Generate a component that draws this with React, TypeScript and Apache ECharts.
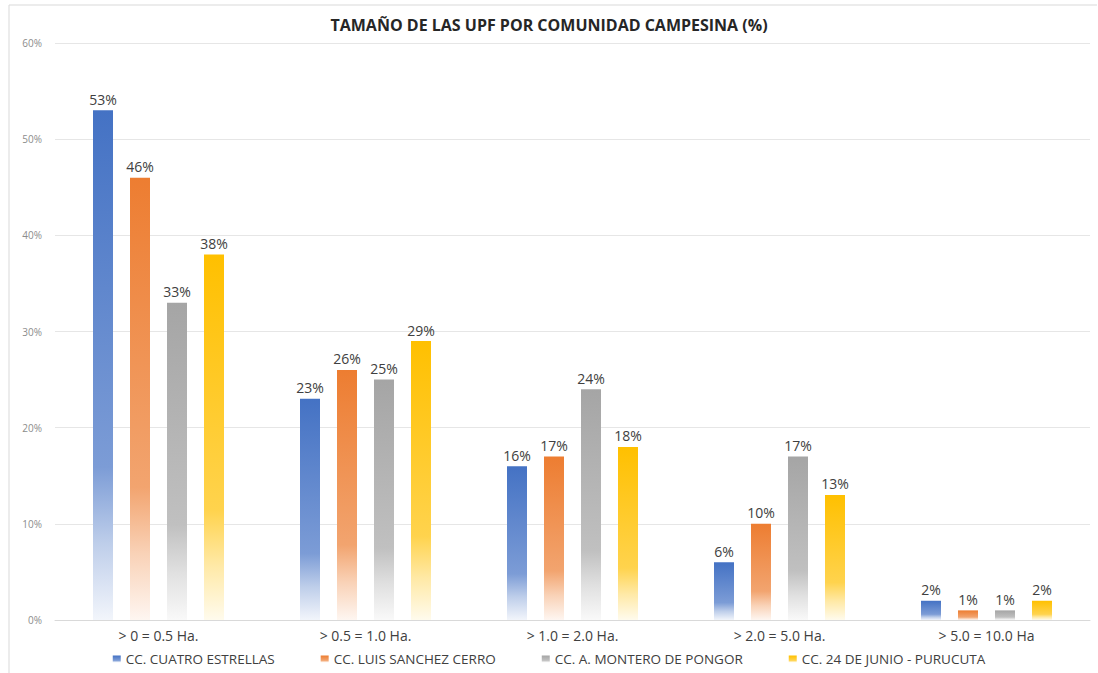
import React, { useEffect, useRef } from "react";
import * as echarts from "echarts";

const categories = ["> 0 = 0.5 Ha.", "> 0.5 = 1.0 Ha.", "> 1.0 = 2.0 Ha.", "> 2.0 = 5.0 Ha.", "> 5.0 = 10.0 Ha"];
const seriesNames = ["CC. CUATRO ESTRELLAS", "CC. LUIS SANCHEZ CERRO", "CC. A. MONTERO DE PONGOR", "CC. 24 DE JUNIO - PURUCUTA"];
const cuatroEstrellas = [53, 23, 16, 6, 2];
const luisSanchezCerro = [46, 26, 17, 10, 1];
const monteroPongor = [33, 25, 24, 17, 1];
const purucuta = [38, 29, 18, 13, 2];
const seriesValues = [cuatroEstrellas, luisSanchezCerro, monteroPongor, purucuta];
const colors = ["#4472C4", "#ED7D31", "#A5A5A5", "#FFC000"];

function mix(hex: string, t: number) {
  const r = parseInt(hex.slice(1, 3), 16), g = parseInt(hex.slice(3, 5), 16), b = parseInt(hex.slice(5, 7), 16);
  const m = (c: number) => Math.round(c + (255 - c) * t);
  return `rgb(${m(r)},${m(g)},${m(b)})`;
}

export default function App() {
  const ref = useRef<HTMLDivElement>(null);
  useEffect(() => {
    const chart = echarts.init(ref.current!, null, { renderer: "svg" });
    const font = "'Open Sans', sans-serif";
    chart.setOption({
      animation: false,
      backgroundColor: "#fff",
      textStyle: { fontFamily: font },
      title: {
        text: "TAMAÑO DE LAS UPF POR COMUNIDAD CAMPESINA (%)",
        left: "center",
        top: 12,
        textStyle: { fontSize: 16, fontWeight: "bold", color: "#262626", fontFamily: font },
      },
      legend: {
        bottom: 2,
        left: "center",
        itemWidth: 8,
        itemHeight: 7,
        itemGap: 46,
        icon: "rect",
        textStyle: { fontSize: 13.5, color: "#404040", fontFamily: font },
        data: seriesNames,
      },
      grid: { left: 55, right: 8, top: 43, bottom: 53, containLabel: false },
      xAxis: {
        type: "category",
        data: categories,
        axisLine: { lineStyle: { color: "#d9d9d9" } },
        axisTick: { show: false },
        axisLabel: { fontSize: 14, color: "#404040", margin: 8 },
      },
      yAxis: {
        type: "value",
        min: 0,
        max: 60,
        interval: 10,
        axisLabel: { formatter: "{value}%", fontSize: 10, color: "#8c8c8c", margin: 13 },
        splitLine: { lineStyle: { color: "#e6e6e6" } },
        axisLine: { show: false },
        axisTick: { show: false },
      },
      graphic: [
        { type: "line", shape: { x1: 9, y1: 5, x2: 1097, y2: 5 }, style: { stroke: "#d9d9d9", lineWidth: 1 } },
        { type: "line", shape: { x1: 9, y1: 5, x2: 9, y2: 673 }, style: { stroke: "#d9d9d9", lineWidth: 1 } },
      ],
      series: seriesNames.map((name, i) => ({
        name,
        type: "bar",
        data: seriesValues[i],
        barWidth: 20,
        barGap: "85%",
        itemStyle: {
          color: new echarts.graphic.LinearGradient(0, 0, 0, 1, [
            { offset: 0, color: colors[i] },
            { offset: 0.7, color: mix(colors[i], 0.3) },
            { offset: 0.85, color: mix(colors[i], 0.65) },
            { offset: 1, color: mix(colors[i], 0.93) },
          ]),
        },
        label: {
          show: true,
          position: "top",
          formatter: "{c}%",
          fontSize: 14,
          color: "#404040",
          distance: 4,
        },
      })),
    });
    return () => chart.dispose();
  }, []);
  return <div ref={ref} style={{ position: "fixed", left: 0, top: 0, width: 1098, height: 673 }} />;
}
